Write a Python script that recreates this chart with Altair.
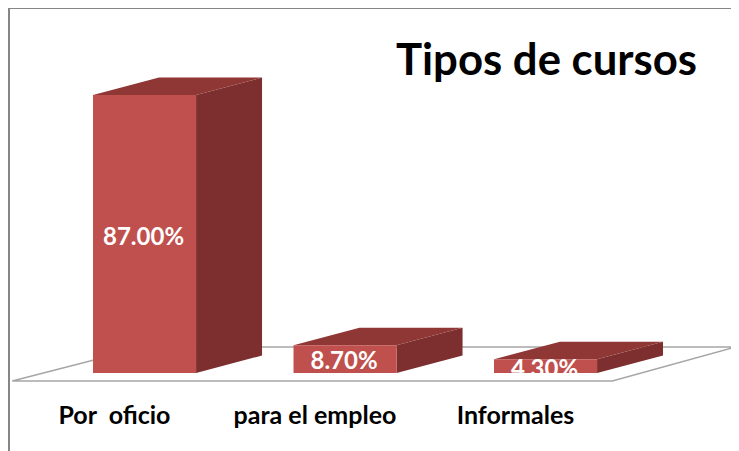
import altair as alt
import pandas as pd

categories = ["Por\u00a0 oficio", "para el empleo", "Informales"]
positions = [0, 1, 2]
values = [87.0, 8.7, 4.3]
value_labels = ["87.00%", "8.70%", "4.30%"]
title_text = "Tipos de cursos"

W, H = 723, 443
HALF = 0.257      # half bar width, in category units
DX = 0.329        # depth offset, category units
DY = 5.48         # depth offset, percent units
X_SCALE = alt.Scale(domain=[-0.681, 2.925], nice=False, zero=False)
Y_SCALE = alt.Scale(domain=[-24.41, 114.24], nice=False, zero=False)
X = lambda f="x": alt.X(f"{f}:Q", scale=X_SCALE, axis=None)
Y = lambda f="y": alt.Y(f"{f}:Q", scale=Y_SCALE, axis=None)

front, side, top = [], [], []
for c, p, v in zip(categories, positions, values):
    a, b = p - HALF, p + HALF
    front.append({"c": c, "x": a, "x2": b, "y": v, "y2": 0})
    for x, y, y2 in [(b, 0, v), (b + DX, DY, v + DY)]:
        side.append({"c": c, "x": x, "y": y, "y2": y2})
    for x, y, y2 in [(a, v, v), (a + DX, v, v + DY), (b, v, v + DY), (b + DX, v + DY, v + DY)]:
        top.append({"c": c, "x": x, "y": y, "y2": y2})

floor_x = [-0.66, 2.333, 2.948, 0.0, -0.66]
floor_y = [-2.5, -2.5, 8.14, 8.14, -2.5]
floor = pd.DataFrame({"x": floor_x, "y": floor_y, "o": range(5)})

FONT = "Lato"

floor_fill = alt.Chart(floor).mark_line(color="#a6a6a6", strokeWidth=1.6).encode(
    x=X(), y=Y(), order="o:Q")
side_l = alt.Chart(pd.DataFrame(side)).mark_area(color="#7c2f2e", interpolate="linear").encode(
    x=X(), y=Y(), y2="y2:Q", detail="c:N")
top_l = alt.Chart(pd.DataFrame(top)).mark_area(color="#8f3735", interpolate="linear").encode(
    x=X(), y=Y(), y2="y2:Q", detail="c:N")
front_l = alt.Chart(pd.DataFrame(front)).mark_rect(color="#c0504d").encode(
    x=X(), x2="x2:Q", y=Y(), y2="y2:Q")

lab = pd.DataFrame({
    "x": [p - 0.005 for p in positions],
    "y": [42.3, 3.45, 1.0],
    "t": value_labels,
})
labels_l = alt.Chart(lab).mark_text(
    color="white", font=FONT, fontWeight="bold", fontSize=24, baseline="middle"
).encode(x=X(), y=Y(), text="t:N")

# the lowest value label is cut off at the foot of its bar in the reference
mask_l = alt.Chart(pd.DataFrame({"x": [2 - HALF - 0.02], "x2": [2 + HALF + 0.02], "y": [0], "y2": [-2.1]})).mark_rect(
    color="white").encode(x=X(), x2="x2:Q", y=Y(), y2="y2:Q")

cat = pd.DataFrame({"x": [p - 0.15 for p in positions], "y": [-13.5] * 3, "t": categories})
cats_l = alt.Chart(cat).mark_text(
    color="black", font=FONT, fontWeight="bold", fontSize=25, baseline="middle"
).encode(x=X(), y=Y(), text="t:N")

title_l = alt.Chart(pd.DataFrame({"t": [title_text]})).mark_text(
    color="black", font=FONT, fontWeight="bold", fontSize=43.7, baseline="middle", align="center"
).encode(x=alt.value(538.5), y=alt.value(54), text="t:N")

frame_left = alt.Chart(pd.DataFrame({"a": [0]})).mark_rule(color="#868686", strokeWidth=2).encode(
    x=alt.value(1), y=alt.value(0), y2=alt.value(H))
frame_top = alt.Chart(pd.DataFrame({"a": [0]})).mark_rule(color="#868686", strokeWidth=2).encode(
    y=alt.value(0), x=alt.value(0), x2=alt.value(W))

chart = alt.layer(
    floor_fill, side_l, top_l, front_l, labels_l, mask_l, cats_l, title_l, frame_left, frame_top
).properties(
    width=W, height=H, padding=0, background="white",
    autosize=alt.AutoSizeParams(type="none"),
).configure_view(stroke=None)

chart.save("out.html", embed_options={"renderer": "svg", "actions": False})
